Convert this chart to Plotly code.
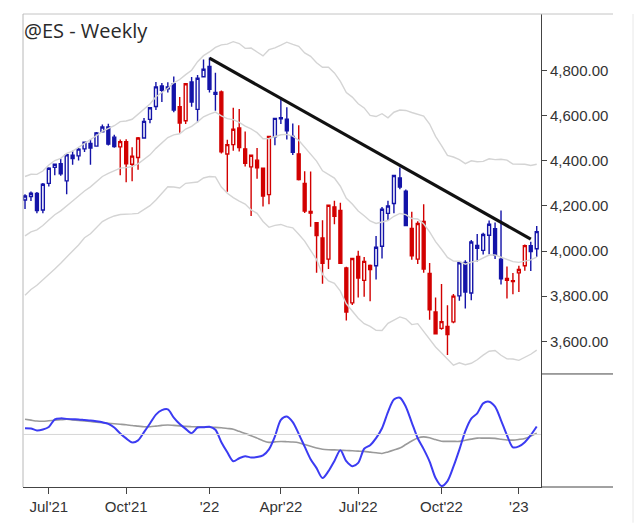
import plotly.graph_objects as go
import pandas as pd
import numpy as np

# ---------------- data ----------------
weeks = [
    "2021-06-04", "2021-06-11", "2021-06-18", "2021-06-25", "2021-07-02", "2021-07-09", "2021-07-16",
    "2021-07-23", "2021-07-30", "2021-08-06", "2021-08-13", "2021-08-20", "2021-08-27", "2021-09-03",
    "2021-09-10", "2021-09-17", "2021-09-24", "2021-10-01", "2021-10-08", "2021-10-15", "2021-10-22",
    "2021-10-29", "2021-11-05", "2021-11-12", "2021-11-19", "2021-11-26", "2021-12-03", "2021-12-10",
    "2021-12-17", "2021-12-24", "2021-12-31", "2022-01-07", "2022-01-14", "2022-01-21", "2022-01-28",
    "2022-02-04", "2022-02-11", "2022-02-18", "2022-02-25", "2022-03-04", "2022-03-11", "2022-03-18",
    "2022-03-25", "2022-04-01", "2022-04-08", "2022-04-15", "2022-04-22", "2022-04-29", "2022-05-06",
    "2022-05-13", "2022-05-20", "2022-05-27", "2022-06-03", "2022-06-10", "2022-06-17", "2022-06-24",
    "2022-07-01", "2022-07-08", "2022-07-15", "2022-07-22", "2022-07-29", "2022-08-05", "2022-08-12",
    "2022-08-19", "2022-08-26", "2022-09-02", "2022-09-09", "2022-09-16", "2022-09-23", "2022-09-30",
    "2022-10-07", "2022-10-14", "2022-10-21", "2022-10-28", "2022-11-04", "2022-11-11", "2022-11-18",
    "2022-11-25", "2022-12-02", "2022-12-09", "2022-12-16", "2022-12-23", "2022-12-30", "2023-01-06",
    "2023-01-13", "2023-01-20", "2023-01-27",
]

opens = [
    4226, 4242, 4255, 4182, 4300, 4371, 4387, 4311, 4425, 4422,
    4453, 4477, 4465, 4529, 4550, 4505, 4462, 4485, 4385, 4415,
    4501, 4584, 4641, 4732, 4719, 4742, 4640, 4578, 4750, 4628,
    4773, 4818, 4695, 4705, 4430, 4472, 4546, 4453, 4373, 4403,
    4367, 4250, 4507, 4586, 4585, 4508, 4431, 4300, 4176, 4126,
    4058, 3964, 4196, 4180, 3925, 3770, 3976, 3870, 3936, 3935,
    4021, 4167, 4211, 4324, 4265, 4100, 3964, 4131, 3901, 3730,
    3657, 3666, 3686, 3801, 3949, 3814, 4025, 4003, 4070, 4099,
    3964, 3879, 3868, 3903, 3935, 4024, 4010,
]
highs = [
    4252, 4264, 4262, 4302, 4371, 4387, 4409, 4430, 4445, 4457,
    4483, 4495, 4528, 4561, 4564, 4516, 4495, 4496, 4460, 4506,
    4590, 4638, 4749, 4745, 4748, 4774, 4683, 4744, 4772, 4781,
    4849, 4858, 4790, 4712, 4493, 4635, 4630, 4530, 4425, 4457,
    4369, 4510, 4591, 4682, 4638, 4566, 4558, 4354, 4353, 4126,
    4136, 4204, 4223, 4214, 3930, 3969, 4001, 3974, 3940, 4067,
    4195, 4223, 4336, 4370, 4273, 4174, 4132, 4207, 3947, 3794,
    3854, 3760, 3810, 3952, 3959, 4049, 4076, 4081, 4135, 4127,
    4180, 3931, 3903, 3935, 4029, 4041, 4111,
]
lows = [
    4186, 4222, 4168, 4168, 4286, 4336, 4334, 4252, 4383, 4401,
    4439, 4383, 4465, 4529, 4468, 4458, 4336, 4305, 4309, 4360,
    4500, 4567, 4625, 4661, 4703, 4615, 4525, 4563, 4640, 4571,
    4773, 4703, 4622, 4432, 4263, 4445, 4441, 4375, 4155, 4320,
    4198, 4207, 4469, 4563, 4495, 4426, 4313, 4169, 4108, 3904,
    3855, 3920, 4119, 3945, 3692, 3761, 3794, 3797, 3777, 3874,
    3967, 4135, 4167, 4274, 4112, 3961, 3942, 3904, 3695, 3631,
    3651, 3539, 3680, 3780, 3745, 3782, 3954, 3985, 3986, 3965,
    3852, 3790, 3808, 3818, 3913, 3911, 3975,
]
closes = [
    4244, 4256, 4180, 4296, 4367, 4385, 4342, 4427, 4410, 4452,
    4483, 4457, 4524, 4550, 4474, 4463, 4485, 4387, 4421, 4501,
    4575, 4635, 4728, 4713, 4728, 4625, 4568, 4742, 4661, 4766,
    4806, 4717, 4703, 4440, 4472, 4540, 4459, 4389, 4425, 4369,
    4244, 4508, 4588, 4591, 4533, 4438, 4317, 4177, 4168, 4069,
    3946, 4203, 4154, 3946, 3730, 3967, 3880, 3954, 3918, 4017,
    4185, 4200, 4335, 4284, 4113, 3979, 4122, 3920, 3740, 3633,
    3687, 3630, 3800, 3948, 3818, 4040, 4012, 4073, 4119, 3981,
    3877, 3870, 3865, 3918, 4024, 3998, 4086,
]
# bar paint: B = blue, R = red
paint = list(
    "BBBBBBBBBBBBBBBB" "RRRR" "BBBBBB" "RR" "BBBBB" "RRRRRRRRR" "BBBB"
    "RRRRRRRRRRRRR" "BBBBBB" "RRRRRRRR" "BBBBBBBB" "RRRR" "BB"
)

# 20 weeks before the first visible bar (only feed the channel)
hist_high = [3837, 3871, 3881, 3897, 3947, 3960, 3944, 3925, 3970, 3994,
             3988, 4031, 4140, 4201, 4204, 4229, 4248, 4246, 4199, 4223]
hist_low = [3770, 3759, 3704, 3736, 3885, 3876, 3800, 3733, 3824, 3898,
            3864, 3927, 4044, 4128, 4107, 4175, 4139, 4067, 4071, 4161]
hist_close = [3778, 3852, 3724, 3897, 3945, 3917, 3821, 3852, 3953, 3923,
              3985, 4030, 4139, 4196, 4190, 4191, 4243, 4184, 4166, 4214]

# lower pane oscillator (blue) and its slow line (gray)
osc = [6.3, 6, 4, 5, 7.5, 15.3, 16.2, 15.7, 15.3, 15.1,
       14.5, 14, 13.2, 12.2, 10.7, 7, 1, -4, -8, -6,
       2.3, 11, 20, 24.5, 25.3, 17, 10.5, 5.6, 1.3, 7,
       7.2, 7.8, 4.7, -7.8, -18, -27, -24, -22, -23.2, -22.7,
       -21, -15, -2, 14.6, 18, 12.4, 0.6, -12.3, -25, -34,
       -44, -37, -26.7, -16, -27, -32, -28.7, -14.4, -10.8, -3.7,
       6.3, 22.6, 35.2, 37, 28, 12, -3.8, -14.8, -27.3, -44,
       -52, -47, -32.5, -15.3, 3.4, 16, 21.3, 31.3, 33, 28,
       14.3, -0.8, -13, -12, -7.8, -0.7, 8]
osc_slow = [15.3, 14.4, 13.5, 13.3, 13.8, 14.3, 14.8, 15.3, 14.7, 14.1,
            13.5, 13, 12.4, 11.8, 11.3, 10.8, 10.3, 9.8, 9, 8.4,
            7.7, 7.7, 8.4, 9.1, 9.6, 9.1, 8.6, 8.1, 7.8, 7.6,
            7.5, 7.3, 7.1, 6.7, 6, 5.3, 3.1, 1, -1.2, -3.7,
            -6.3, -8, -7.5, -7.1, -7.3, -7.6, -8.3, -10.2, -12, -13.6,
            -14.9, -15.4, -15.6, -15.9, -16.2, -16.5, -16.8, -17.1, -17.8, -18.5,
            -19.2, -17.6, -15.7, -13.7, -10.2, -6.6, -3.5, -2.4, -3.4, -5.2,
            -6.8, -7, -7, -7, -5.8, -4.7, -3.7, -3.7, -3.7, -4,
            -4.8, -5.6, -5.7, -5, -4, -1.7, 1.3]

trend_x = ["2022-01-07", "2023-01-20"]
trend_y = [4855, 4053]

tick_weeks = ["2021-07-02", "2021-10-01", "2022-01-07", "2022-04-01",
              "2022-07-01", "2022-10-07", "2023-01-06"]
tick_text = ["Jul'21", "Oct'21", "'22", "Apr'22", "Jul'22", "Oct'22", "'23"]
price_ticks = [3600, 3800, 4000, 4200, 4400, 4600, 4800]

# ---------------- channel (20-week EMA +/- ATR) ----------------
c_all = pd.Series(hist_close + closes, dtype=float)
h_all = pd.Series(hist_high + highs, dtype=float)
l_all = pd.Series(hist_low + lows, dtype=float)
prev_c = c_all.shift(1)
tr = pd.concat([h_all - l_all, (h_all - prev_c).abs(), (l_all - prev_c).abs()], axis=1).max(axis=1)
mid = c_all.ewm(span=20, adjust=False).mean()
atr = tr.rolling(20).mean()
n = len(weeks)
mid_v = mid.iloc[-n:].tolist()
up_v = (mid + 2.3 * atr).iloc[-n:].tolist()
lo_v = (mid - 2.3 * atr).iloc[-n:].tolist()

BLUE = "#1414a8"
RED = "#d20000"
BAND = "#d4d4d4"
FONT = "Liberation Sans"

fig = go.Figure()

for v in (up_v, mid_v, lo_v):
    fig.add_trace(go.Scatter(x=weeks, y=v, mode="lines", xaxis="x", yaxis="y",
                             line=dict(color=BAND, width=1.4), hoverinfo="skip"))

for code, col in (("B", BLUE), ("R", RED)):
    idx = [i for i, p in enumerate(paint) if p == code]
    fig.add_trace(go.Candlestick(
        x=[weeks[i] for i in idx],
        open=[opens[i] for i in idx], high=[highs[i] for i in idx],
        low=[lows[i] for i in idx], close=[closes[i] for i in idx],
        xaxis="x", yaxis="y", whiskerwidth=0,
        increasing=dict(line=dict(color=col, width=1.4), fillcolor="white"),
        decreasing=dict(line=dict(color=col, width=1.4), fillcolor=col),
    ))

fig.add_trace(go.Scatter(x=trend_x, y=trend_y, mode="lines", xaxis="x", yaxis="y",
                         line=dict(color="#111111", width=3.2)))

fig.add_trace(go.Scatter(x=weeks, y=osc_slow, mode="lines", xaxis="x2", yaxis="y2",
                         line=dict(color="#9a9a9a", width=1.6, shape="spline", smoothing=0.8)))
fig.add_trace(go.Scatter(x=weeks, y=osc, mode="lines", xaxis="x2", yaxis="y2",
                         line=dict(color="#3b3bf2", width=2, shape="spline", smoothing=0.8)))

LOW_DOM = 114 / 477
xr = [-0.34, 86.72]
common_x = dict(type="category", categoryorder="array", categoryarray=weeks, range=xr,
                showgrid=False, zeroline=False)

fig.update_layout(
    width=640, height=527,
    margin=dict(l=23, r=99, t=14, b=36, pad=0),
    paper_bgcolor="white", plot_bgcolor="white",
    showlegend=False,
    xaxis=dict(domain=[0, 1], anchor="y", showticklabels=False, ticks="", showline=False,
               rangeslider=dict(visible=False), **common_x),
    xaxis2=dict(domain=[0, 1], anchor="y2", matches="x", tickmode="array",
                tickvals=tick_weeks, ticktext=tick_text, ticks="outside", ticklen=6,
                tickcolor="#444", showline=True, linecolor="#444", linewidth=1,
                tickfont=dict(family=FONT, size=15, color="#333"), **common_x),
    yaxis=dict(domain=[LOW_DOM, 1], anchor="x", side="right", range=[3455, 5051],
               tickmode="array", tickvals=price_ticks, tickformat=",.2f",
               ticks="outside", ticklen=5, tickcolor="#444", showline=True,
               linecolor="#444", linewidth=1, showgrid=False, zeroline=False,
               tickfont=dict(family=FONT, size=15, color="#333")),
    yaxis2=dict(domain=[0, LOW_DOM], anchor="x2", side="right", range=[-53, 61],
                showticklabels=False, ticks="", showline=True, linecolor="#444",
                linewidth=1, showgrid=False, zeroline=False),
    annotations=[dict(text="@ES - Weekly", xref="paper", yref="paper", x=0, y=1,
                      xanchor="left", yanchor="top", xshift=-1, yshift=-1, showarrow=False,
                      font=dict(family="Open Sans", size=20, color="#2a2a2a"))],
)

xr_end = (613 - 23) / 518
fig.add_shape(type="line", xref="paper", yref="paper", x0=0, x1=xr_end, y0=1, y1=1,
              line=dict(color="#c4c4c4", width=1))
fig.add_shape(type="line", xref="paper", yref="paper", x0=0, x1=0, y0=0, y1=1,
              line=dict(color="#b8b8b8", width=1))
fig.add_shape(type="line", xref="paper", yref="paper", x0=1, x1=xr_end, y0=0, y1=0,
              line=dict(color="#444", width=1))
fig.add_shape(type="line", xref="paper", yref="paper", x0=1, x1=xr_end, y0=LOW_DOM, y1=LOW_DOM,
              line=dict(color="#444", width=1))
fig.add_shape(type="line", xref="paper", yref="paper", x0=(633 - 23) / 518, x1=(633 - 23) / 518,
              y0=1, y1=-36 / 477, line=dict(color="#e8e8e8", width=1))
fig.add_shape(type="line", xref="paper", yref="y2", x0=0, x1=1, y0=0, y1=0,
              line=dict(color="#d6d6d6", width=1))

fig.write_html("out.html")
